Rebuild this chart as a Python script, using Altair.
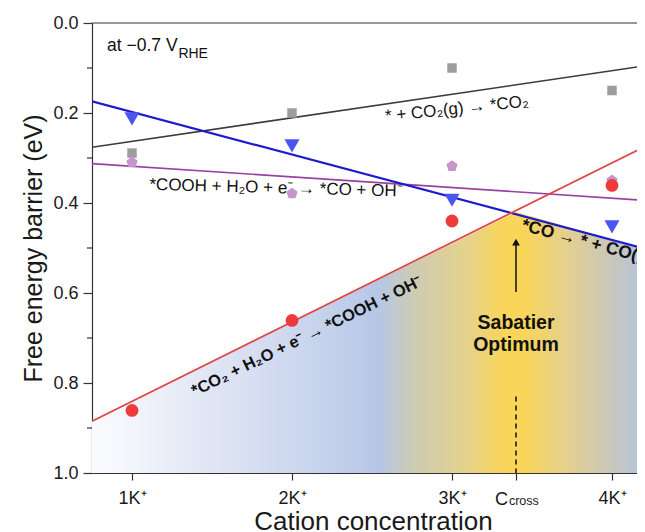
import altair as alt
import pandas as pd

# ---------------- data ----------------
cation = [1, 2, 3, 4]
co2_ads = [0.289, 0.200, 0.100, 0.150]     # * + CO2(g) -> *CO2   (grey squares)
co_des = [0.213, 0.273, 0.394, 0.453]      # *CO -> * + CO(g)     (blue triangles)
cooh_co = [0.310, 0.379, 0.318, 0.350]     # *COOH -> *CO         (purple pentagons)
co2_cooh = [0.861, 0.661, 0.440, 0.361]    # *CO2 -> *COOH        (red circles)

fit_x = [0.75, 4.2]
co2_ads_fit = [0.276, 0.0955]
co_des_fit = [0.174, 0.501]
cooh_co_fit = [0.3125, 0.394]
co2_cooh_fit = [0.885, 0.2755]

c_cross = 3.4
shade_x = [0.75, 3.4, 4.2]
shade_y = [0.885, 0.420, 0.501]

x_ticks = [1, 2, 3, 3.4, 4]
x_tick_labels = ["1K⁺", "2K⁺", "3K⁺", "", "4K⁺"]
y_ticks = [0.0, 0.2, 0.4, 0.6, 0.8, 1.0]
y_minor = [0.1, 0.3, 0.5, 0.7, 0.9]

FONT = "Liberation Sans"
W, H = 545, 450
xs = alt.Scale(domain=[0.75, 0.75 + W / 160], nice=False, zero=False)
ys = alt.Scale(domain=[0, 1], reverse=True, nice=False, zero=False)

label_expr = " : ".join(
    f"datum.value == {v} ? '{l}'" for v, l in zip(x_ticks, x_tick_labels)
) + " : ''"

x_axis = alt.Axis(values=x_ticks, labelExpr=label_expr, title="Cation concentration",
                  grid=False, tickSize=7, labelPadding=9, labelFontSize=18,
                  titleFontSize=26, titleFontWeight="normal", titlePadding=1, titleX=281,
                  domainColor="#333333", tickColor="#333333", labelColor="#1a1a1a",
                  titleColor="#1a1a1a", labelFont=FONT, titleFont=FONT,
                  domainWidth=1.2, tickWidth=1.2)
y_axis = alt.Axis(values=y_ticks, format=".1f", title="Free energy barrier (eV)",
                  grid=False, tickSize=9, labelPadding=5, labelFontSize=18,
                  titleFontSize=25, titleFontWeight="normal", titlePadding=6,
                  domainColor="#333333", tickColor="#333333", labelColor="#1a1a1a",
                  titleColor="#1a1a1a", labelFont=FONT, titleFont=FONT,
                  domainWidth=1.2, tickWidth=1.2)


def X(field="x"):
    return alt.X(f"{field}:Q", scale=xs, axis=x_axis)


def Y(field="y"):
    return alt.Y(f"{field}:Q", scale=ys, axis=y_axis)


gradient = alt.Gradient(
    gradient="linear", x1=0, x2=1, y1=0, y2=0,
    stops=[
        alt.GradientStop(color="#fbfcfe", offset=0.0),
        alt.GradientStop(color="#e2e7f5", offset=0.2),
        alt.GradientStop(color="#cbd6ee", offset=0.38),
        alt.GradientStop(color="#b6c7e6", offset=0.52),
        alt.GradientStop(color="#cccbb4", offset=0.58),
        alt.GradientStop(color="#e6d28c", offset=0.68),
        alt.GradientStop(color="#f9d55a", offset=0.745),
        alt.GradientStop(color="#f9d55a", offset=0.785),
        alt.GradientStop(color="#e4d08e", offset=0.86),
        alt.GradientStop(color="#cbc8b6", offset=0.93),
        alt.GradientStop(color="#b4c4de", offset=1.0),
    ],
)

shade_df = pd.DataFrame({"x": shade_x, "y": shade_y, "base": [1.0] * len(shade_x)})
shade = alt.Chart(shade_df).mark_area(color=gradient, clip=True).encode(
    x=X(), y=Y(), y2="base:Q",
)

layers = [shade]

# top frame line and minor ticks
layers.append(alt.Chart(pd.DataFrame({"y": [0.0]})).mark_rule(color="#333333", strokeWidth=1.2).encode(
    y=Y()))
layers.append(alt.Chart(pd.DataFrame({"y": y_minor})).mark_rule(color="#333333", strokeWidth=1.2).encode(
    y=Y(), x=alt.value(-5), x2=alt.value(0)))

series = [
    (co2_ads_fit, co2_ads, "#3c3c3c", 1.6, "#9d9d9d", "square", 90),
    (cooh_co_fit, cooh_co, "#9a40a0", 1.6, "#c795cc", "M0,-1L0.951,-0.309L0.588,0.809L-0.588,0.809L-0.951,-0.309Z", 140),
    (co_des_fit, co_des, "#1c1ccc", 2.2, "#4a55f0", "triangle-down", 230),
    (co2_cooh_fit, co2_cooh, "#e04848", 1.8, "#ee3a3a", "circle", 165),
]
for fit, pts, lc, lw, pc, shape, size in series:
    layers.append(alt.Chart(pd.DataFrame({"x": fit_x, "y": fit})).mark_line(
        color=lc, strokeWidth=lw, clip=True).encode(x=X(), y=Y()))
for fit, pts, lc, lw, pc, shape, size in series:
    layers.append(alt.Chart(pd.DataFrame({"x": cation, "y": pts})).mark_point(
        shape=shape, filled=True, size=size, color=pc, opacity=1).encode(x=X(), y=Y()))

# Sabatier arrow and dashed line
layers.append(alt.Chart(pd.DataFrame({"x": [c_cross], "y": [0.83], "y2": [1.0]})).mark_rule(
    color="#111111", strokeWidth=1.5, strokeDash=[5, 4]).encode(x=X(), y=Y(), y2="y2:Q"))
layers.append(alt.Chart(pd.DataFrame({"x": [c_cross], "y": [0.598], "y2": [0.49]})).mark_rule(
    color="#111111", strokeWidth=1.5).encode(x=X(), y=Y(), y2="y2:Q"))
layers.append(alt.Chart(pd.DataFrame({"x": [c_cross], "y": [0.487]})).mark_point(
    shape="triangle-up", filled=True, size=60, color="#111111", opacity=1).encode(x=X(), y=Y()))


def label(x, y, text, size, weight="normal", angle=0, align="center", baseline="middle", color="#111111"):
    return alt.Chart(pd.DataFrame({"x": [x], "y": [y], "t": [text]})).mark_text(
        font=FONT, fontSize=size, fontWeight=weight, angle=angle, align=align,
        baseline=baseline, color=color).encode(x=X(), y=Y(), text="t:N")


layers += [
    label(0.844, 0.051, "at −0.7 V", 17.5, align="left"),
    label(1.29, 0.069, "RHE", 14, align="left"),
    label(3.03, 0.191, "* + CO₂(g) → *CO₂", 17, angle=354),
    label(1.90, 0.367, "*COOH + H₂O + e⁻ → *CO + OH⁻", 17, angle=1.5),
    label(2.094, 0.696, "*CO₂ + H₂O + e⁻ → *COOH + OH⁻", 16.5, weight="bold", angle=334),
    label(3.4375, 0.449, "*CO → * + CO(g)", 17.5, weight="bold", angle=15, align="left"),
    label(c_cross, 0.667, "Sabatier", 19.5, weight="bold"),
    label(c_cross, 0.716, "Optimum", 19.5, weight="bold"),
    label(3.309, 1.071, "C", 18, baseline="alphabetic", color="#1a1a1a"),
    label(3.356, 1.071, "cross", 12.5, align="left", baseline="alphabetic", color="#1a1a1a"),
]

chart = alt.layer(*layers).properties(
    width=W, height=H,
    padding={"left": 84, "top": 15, "right": 0, "bottom": 60},
    autosize=alt.AutoSizeParams(type="none"),
).configure_view(stroke=None)

chart.save("out.html", embed_options={"renderer": "svg", "actions": False})
